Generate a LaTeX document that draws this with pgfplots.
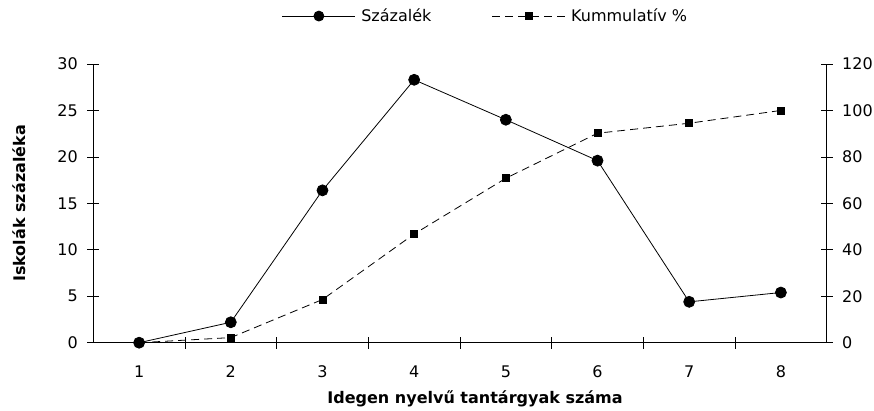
\documentclass[border=0pt]{standalone}
\usepackage{fontspec}
\setmainfont{DejaVu Sans}
\usepackage{pgfplots}
\pgfplotsset{compat=1.18}
\begin{document}
\fontsize{16}{19}\selectfont
\begin{tikzpicture}
\pgfplotsset{
  base/.style={
    scale only axis,
    width=733.4pt, height=278.7pt,
    xmin=0.5, xmax=8.5,
    major tick length=12pt, tick align=center,
    /pgf/number format/assume math mode=true,
    axis line style={line width=0.8pt, black},
    tick style={line width=0.8pt, black},
    clip=false,
  }
}
\begin{axis}[base,
  ymin=0, ymax=30, ytick={0,5,...,30},
  axis y line*=left, axis x line*=bottom,
  xtick={1.5,2.5,...,7.5}, xticklabels={},
  yticklabel style={xshift=-4pt},
  every axis y label/.style={at={(axis description cs:-0.1004,0.5)}, rotate=90, anchor=center},
  ylabel={\bfseries Iskolák százaléka},
]
\addplot[black, line width=0.8pt, mark=*, mark size=5.5pt] coordinates {(1,0) (2,2.2) (3,16.4) (4,28.3) (5,24.0) (6,19.6) (7,4.4) (8,5.4)};
\end{axis}
\begin{axis}[base,
  ymin=0, ymax=120, ytick={0,20,...,120},
  axis y line*=right, axis x line*=bottom,
  xtick={1,...,8}, xtick style={draw=none},
  xticklabel style={yshift=-11.5pt},
  yticklabel style={xshift=4pt},
  every axis x label/.style={at={(axis description cs:0.5205,-0.2174)}, anchor=base},
  xlabel={\bfseries Idegen nyelvű tantárgyak száma},
  legend columns=2,
  legend image code/.code={\draw[mark repeat=2,mark phase=2,#1] plot coordinates {(0pt,0pt) (36.5pt,0pt) (73pt,0pt)};},
  legend style={at={(axis description cs:0.257,1.172)}, anchor=west, draw=none, fill=none, inner sep=0pt, nodes={inner sep=2.5pt}, /tikz/every odd column/.append style={column sep=3pt}, /tikz/every even column/.append style={column sep=58pt}},
]
\addlegendimage{black, line width=0.8pt, mark=*, mark size=5pt}
\addlegendentry{Százalék}
\addplot[black, line width=0.8pt, dash pattern=on 8pt off 5pt, mark=square*, mark size=3.5pt, mark options={solid}] coordinates {(1,0) (2,2.2) (3,18.6) (4,46.8) (5,70.8) (6,90.2) (7,94.5) (8,100)};
\addlegendentry{Kummulatív \%}
\end{axis}
\pgfresetboundingbox
\path (-93.3pt,342.7pt) rectangle (780.7pt,-67.3pt);
\end{tikzpicture}
\end{document}
